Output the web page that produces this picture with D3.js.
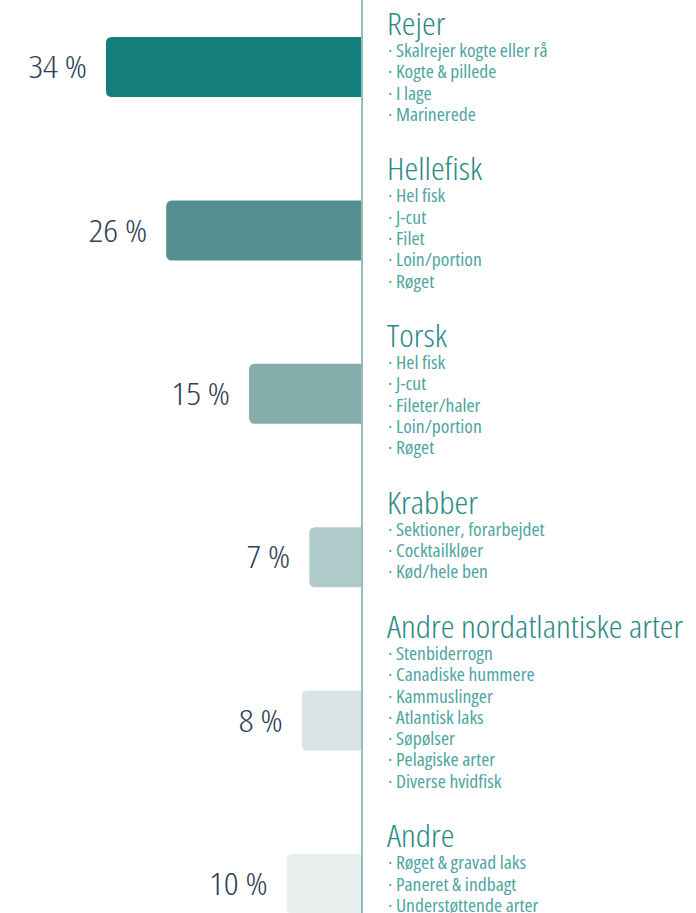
<!DOCTYPE html>
<html lang="en">
<head>
    <meta charset="UTF-8">
    <title>Fiskeprodukter</title>
    <script src="https://d3js.org/d3.v7.min.js"></script>
</head>
<style>
    body { margin: 0; background: #fff; }
    svg text {
        font-family: "Open Sans", sans-serif;
        font-stretch: 75%;
    }
    .pct { fill: #2e3f58; font-size: 31px; font-weight: 300; }
    .title { fill: #2a8986; font-size: 31px; font-weight: 300; }
    .item { fill: #4ea5a1; font-size: 17.5px; font-weight: 400; }
</style>
<body>
    <script>
        const categories = ["Rejer", "Hellefisk", "Torsk", "Krabber", "Andre nordatlantiske arter", "Andre"]
        const shares = [34, 26, 15, 7, 8, 10]
        const products = [
            ["Skalrejer kogte eller rå", "Kogte & pillede", "I lage", "Marinerede"],
            ["Hel fisk", "J-cut", "Filet", "Loin/portion", "Røget"],
            ["Hel fisk", "J-cut", "Fileter/haler", "Loin/portion", "Røget"],
            ["Sektioner, forarbejdet", "Cocktailkløer", "Kød/hele ben"],
            ["Stenbiderrogn", "Canadiske hummere", "Kammuslinger", "Atlantisk laks", "Søpølser", "Pelagiske arter", "Diverse hvidfisk"],
            ["Røget & gravad laks", "Paneret & indbagt", "Understøttende arter"]
        ]
        const colors = ["#137e7b", "#558f8f", "#84adac", "#aecac9", "#d7e3e4", "#e9efee"]

        const width = 696
        const height = 913
        const axisX = 362
        const barH = 60

        const svg = d3.select("body").append("svg")
            .attr("width", width)
            .attr("height", height)

        const x = d3.scaleLinear().domain([0, 100]).range([0, 753])
        const y = d3.scalePoint().domain(categories).range([67, 884])

        // bars, left corners rounded
        const r = 6
        const barPath = (d, i) => {
            const x0 = axisX - x(d), y0 = y(categories[i]) - barH / 2
            return "M" + axisX + "," + y0 + "H" + (x0 + r) +
                "Q" + x0 + "," + y0 + " " + x0 + "," + (y0 + r) +
                "V" + (y0 + barH - r) +
                "Q" + x0 + "," + (y0 + barH) + " " + (x0 + r) + "," + (y0 + barH) +
                "H" + axisX + "Z"
        }

        svg.selectAll(".bar")
            .data(shares)
            .enter().append("path")
            .attr("class", "bar")
            .attr("d", barPath)
            .attr("fill", (d, i) => colors[i])

        // the condensed face is a bit narrower than the original, widen it a little
        const place = (tx, ty, sx) => "translate(" + tx + "," + ty + ") scale(" + sx + ",1)"

        svg.selectAll(".pct")
            .data(shares)
            .enter().append("text")
            .attr("class", "pct")
            .attr("transform", (d, i) => place(axisX - x(d) - 19, y(categories[i]), 1.18))
            .attr("dy", "0.36em")
            .attr("text-anchor", "end")
            .text(d => d + " %")

        svg.append("line")
            .attr("x1", axisX).attr("x2", axisX)
            .attr("y1", 0).attr("y2", height)
            .attr("stroke", "#92bfbc")
            .attr("stroke-width", 2)

        // text blocks flow down the right side
        let ty = 35
        categories.forEach((c, i) => {
            svg.append("text")
                .attr("class", "title")
                .attr("transform", place(387, ty, 1.12))
                .text(c)
            ty += 22
            products[i].forEach((p, j) => {
                svg.append("text")
                    .attr("class", "item")
                    .attr("transform", place(388, ty + j * 21.3, 1.12))
                    .text("· " + p)
            })
            ty += (products[i].length - 1) * 21.3 + 59.5
        })
    </script>
</body>
</html>
